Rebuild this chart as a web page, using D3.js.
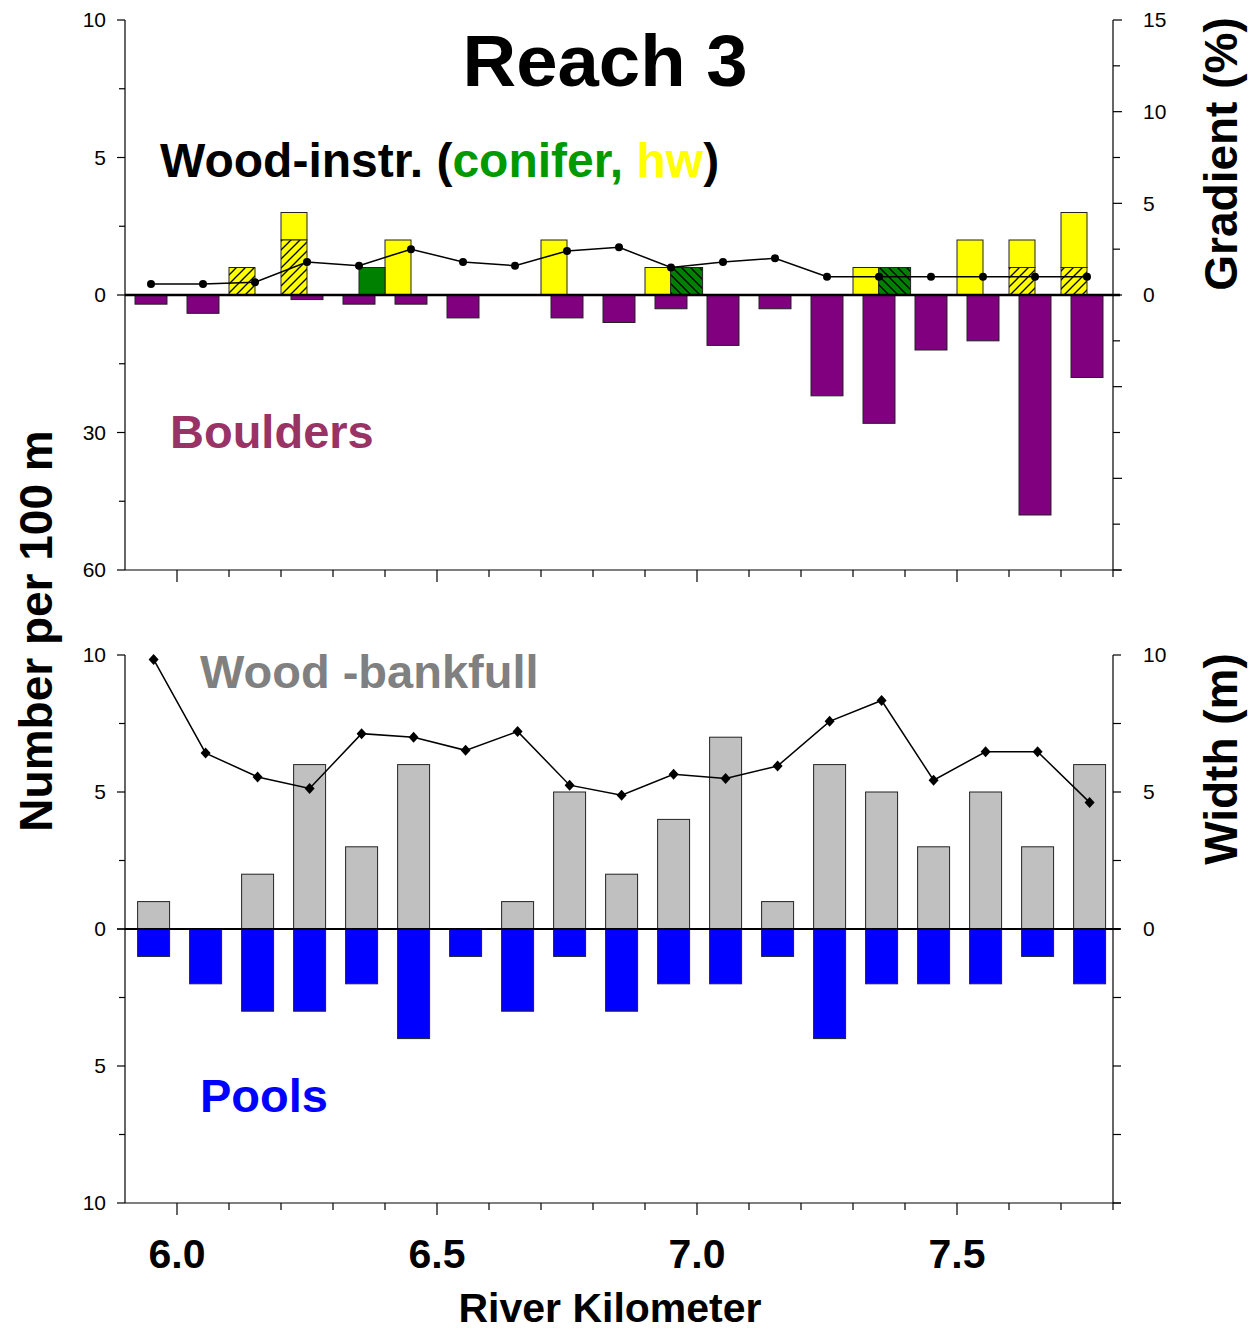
<!DOCTYPE html>
<html><head><meta charset="utf-8">
<script src="https://cdn.jsdelivr.net/npm/d3@7"></script>
<style>body{margin:0;background:#fff}svg{display:block}text{font-family:"Liberation Sans",Arial,sans-serif}</style>
</head><body>
<script>
// ---------- DATA ----------
const kmTop = [5.95,6.05,6.15,6.25,6.35,6.45,6.55,6.65,6.75,6.85,6.95,7.05,7.15,7.25,7.35,7.45,7.55,7.65,7.75];
const gradient = [0.6,0.6,0.7,1.8,1.6,2.5,1.8,1.6,2.4,2.6,1.5,1.8,2.0,1.0,1.0,1.0,1.0,1.0,1.0];
const boulders = [2,4,0,1,2,2,5,0,5,6,3,11,3,22,28,12,10,48,18];
const hwKm = [6.125,6.225,6.425,6.725,6.925,7.325,7.525,7.625,7.725];
const hwHatched = [1,2,0,0,0,0,0,1,1];
const hwTotal = [1,3,2,2,1,1,2,2,3];
const coniferKm = [6.375,6.98,7.38];
const coniferPlain = [1,0,0];
const coniferHatched = [0,1,1];
const kmBottom = [5.955,6.055,6.155,6.255,6.355,6.455,6.555,6.655,6.755,6.855,6.955,7.055,7.155,7.255,7.355,7.455,7.555,7.655,7.755];
const bankfull = [1,0,2,6,3,6,0,1,5,2,4,7,1,6,5,3,5,3,6];
const pools = [1,2,3,3,2,4,1,3,1,3,2,2,1,4,2,2,2,1,2];
const widthM = [9.84,6.42,5.55,5.13,7.13,7.0,6.52,7.21,5.25,4.88,5.65,5.49,5.95,7.58,8.34,5.43,6.47,6.47,4.62];
const xMajor = [6.0,6.5,7.0,7.5];
const xMajorLabels = ["6.0","6.5","7.0","7.5"];
const topLeftLabels = [[10,"10"],[5,"5"],[0,"0"]];
const topLeftLowLabels = [[30,"30"],[60,"60"]];
const gradLabels = [15,10,5,0];
const botLabels = [10,5,0];

// ---------- LAYOUT ----------
const W = 1253, H = 1333;
const svg = d3.select("body").append("svg").attr("width", W).attr("height", H);
const defs = svg.append("defs");
function hatch(id, fill, dir){
  const p = defs.append("pattern").attr("id", id).attr("patternUnits","userSpaceOnUse")
    .attr("width", 9).attr("height", 9);
  p.append("rect").attr("width", 9).attr("height", 9).attr("fill", fill);
  const d = dir === "/" ? "M-2,2 L2,-2 M0,9 L9,0 M7,11 L11,7" : "M-2,7 L2,11 M0,0 L9,9 M7,-2 L11,2";
  p.append("path").attr("d", d).attr("stroke", "#000").attr("stroke-width", 1.3);
}
hatch("hatchY", "#ffff00", "/");
hatch("hatchG", "#008000", "\\");

const L = 125, R = 1113;
const x = d3.scaleLinear().domain([5.9, 7.8]).range([L, R]);
const T = {top: 20, zero: 295, bottom: 570};
const B = {top: 655, zero: 929, bottom: 1203};
const yWood = d3.scaleLinear().domain([0, 10]).range([T.zero, T.top]);
const yBould = d3.scaleLinear().domain([0, 60]).range([T.zero, T.bottom]);
const yGrad = d3.scaleLinear().domain([-15, 15]).range([T.bottom, T.top]);
const yBank = d3.scaleLinear().domain([0, 10]).range([B.zero, B.top]);
const yPool = d3.scaleLinear().domain([0, 10]).range([B.zero, B.bottom]);
const yWidth = d3.scaleLinear().domain([0, 10]).range([B.zero, B.top]);

const barW = x(5.9 + 0.0615) - x(5.9);
const woodW = x(5.9 + 0.05) - x(5.9);
const edge = "#222";

// ---------- TOP PANEL ----------
const gt = svg.append("g");
gt.selectAll(".bo").data(kmTop.map((k,i)=>({k, v: boulders[i]})).filter(d=>d.v>0)).join("rect")
  .attr("x", d=>x(d.k)-barW/2).attr("y", T.zero).attr("width", barW)
  .attr("height", d=>yBould(d.v)-T.zero).attr("fill", "#800080").attr("stroke", edge).attr("stroke-width", 1);
const hwData = hwKm.map((k,i)=>({k, h: hwHatched[i], t: hwTotal[i]}));
gt.selectAll(".hwp").data(hwData.filter(d=>d.t>d.h)).join("rect")
  .attr("x", d=>x(d.k)-woodW/2).attr("y", d=>yWood(d.t)).attr("width", woodW)
  .attr("height", d=>yWood(d.h)-yWood(d.t)).attr("fill", "#ffff00").attr("stroke", edge).attr("stroke-width", 1);
gt.selectAll(".hwh").data(hwData.filter(d=>d.h>0)).join("rect")
  .attr("x", d=>x(d.k)-woodW/2).attr("y", d=>yWood(d.h)).attr("width", woodW)
  .attr("height", d=>T.zero-yWood(d.h)).attr("fill", "url(#hatchY)").attr("stroke", edge).attr("stroke-width", 1);
const coData = coniferKm.map((k,i)=>({k, p: coniferPlain[i], h: coniferHatched[i]}));
gt.selectAll(".cop").data(coData.filter(d=>d.p>0)).join("rect")
  .attr("x", d=>x(d.k)-woodW/2).attr("y", d=>yWood(d.p)).attr("width", woodW)
  .attr("height", d=>T.zero-yWood(d.p)).attr("fill", "#008000").attr("stroke", edge).attr("stroke-width", 1);
gt.selectAll(".coh").data(coData.filter(d=>d.h>0)).join("rect")
  .attr("x", d=>x(d.k)-barW/2).attr("y", d=>yWood(d.h)).attr("width", barW)
  .attr("height", d=>T.zero-yWood(d.h)).attr("fill", "url(#hatchG)").attr("stroke", edge).attr("stroke-width", 1);
gt.append("line").attr("x1", L).attr("x2", R+7).attr("y1", T.zero).attr("y2", T.zero).attr("stroke", "#000").attr("stroke-width", 2.5);
const gradPts = kmTop.map((k,i)=>[x(k), yGrad(gradient[i])]);
gt.append("path").attr("d", d3.line()(gradPts)).attr("fill", "none").attr("stroke", "#000").attr("stroke-width", 1.5);
gt.selectAll(".gd").data(gradPts).join("circle").attr("cx", d=>d[0]).attr("cy", d=>d[1]).attr("r", 4).attr("fill", "#000");

// ---------- BOTTOM PANEL ----------
const gb = svg.append("g");
gb.selectAll(".bk").data(kmBottom.map((k,i)=>({k, v: bankfull[i]})).filter(d=>d.v>0)).join("rect")
  .attr("x", d=>x(d.k)-barW/2).attr("y", d=>yBank(d.v)).attr("width", barW)
  .attr("height", d=>B.zero-yBank(d.v)).attr("fill", "#c0c0c0").attr("stroke", edge).attr("stroke-width", 1);
gb.selectAll(".pl").data(kmBottom.map((k,i)=>({k, v: pools[i]})).filter(d=>d.v>0)).join("rect")
  .attr("x", d=>x(d.k)-barW/2).attr("y", B.zero).attr("width", barW)
  .attr("height", d=>yPool(d.v)-B.zero).attr("fill", "#0000ff").attr("stroke", edge).attr("stroke-width", 1);
gb.append("line").attr("x1", L).attr("x2", R+7).attr("y1", B.zero).attr("y2", B.zero).attr("stroke", "#000").attr("stroke-width", 2);
const wPts = kmBottom.map((k,i)=>[x(k), yWidth(widthM[i])]);
gb.append("path").attr("d", d3.line()(wPts)).attr("fill", "none").attr("stroke", "#000").attr("stroke-width", 1.5);
gb.selectAll(".wd").data(wPts).join("path").attr("transform", d=>`translate(${d[0]},${d[1]})`)
  .attr("d", "M0,-5.5L5,0L0,5.5L-5,0Z").attr("fill", "#000");

// ---------- AXES ----------
const ax = svg.append("g").attr("stroke", "#000").attr("stroke-width", 1.2);
function vline(xx, y1, y2){ ax.append("line").attr("x1", xx).attr("x2", xx).attr("y1", y1).attr("y2", y2); }
function hline(y, x1, x2){ ax.append("line").attr("x1", x1).attr("x2", x2).attr("y1", y).attr("y2", y); }
vline(L, T.top, T.bottom); vline(R, T.top, T.bottom); hline(T.bottom, L, R+8);
vline(L, B.top, B.bottom); vline(R, B.top, B.bottom); hline(B.bottom, L, R+8);
[0,5,10].forEach(v=>hline(yWood(v), L-8, L));
[2.5,7.5].forEach(v=>hline(yWood(v), L-6, L));
[30,60].forEach(v=>hline(yBould(v), L-8, L));
[15,45].forEach(v=>hline(yBould(v), L-6, L));
d3.range(-15, 15.01, 2.5).forEach(v=>hline(yGrad(v), R, R + (v % 5 === 0 ? 9 : 7)));
[0,5,10].forEach(v=>{ hline(yBank(v), L-8, L); hline(yPool(v), L-8, L); });
[2.5,7.5].forEach(v=>{ hline(yBank(v), L-6, L); hline(yPool(v), L-6, L); });
d3.range(0, 10.01, 2.5).forEach(v=>{ hline(yWidth(v), R, R+8); hline(yPool(v), R, R+8); });
d3.range(6.0, 7.85, 0.1).forEach(v=>{
  const major = xMajor.some(m=>Math.abs(m-v)<1e-6);
  vline(x(v), T.bottom, T.bottom + (major ? 12 : 7));
  vline(x(v), B.bottom, B.bottom + (major ? 12 : 7));
});

const tl = svg.append("g").attr("font-size", 21).attr("fill", "#000");
topLeftLabels.forEach(([v,s])=>tl.append("text").attr("x", L-19).attr("y", yWood(v)).attr("dy", "0.35em").attr("text-anchor","end").text(s));
topLeftLowLabels.forEach(([v,s])=>tl.append("text").attr("x", L-19).attr("y", yBould(v)).attr("dy", "0.35em").attr("text-anchor","end").text(s));
gradLabels.forEach(v=>tl.append("text").attr("x", R+30).attr("y", yGrad(v)).attr("dy", "0.35em").text(v));
botLabels.forEach(v=>tl.append("text").attr("x", L-19).attr("y", yBank(v)).attr("dy", "0.35em").attr("text-anchor","end").text(v));
[5,10].forEach(v=>tl.append("text").attr("x", L-19).attr("y", yPool(v)).attr("dy", "0.35em").attr("text-anchor","end").text(v));
botLabels.forEach(v=>tl.append("text").attr("x", R+30).attr("y", yWidth(v)).attr("dy", "0.35em").text(v));
xMajor.forEach((v,i)=>svg.append("text").attr("x", x(v)).attr("y", 1268).attr("text-anchor","middle")
  .attr("font-size", 41).attr("font-weight","bold").text(xMajorLabels[i]));

// ---------- TITLES / LABELS ----------
svg.append("text").attr("x", 605).attr("y", 86).attr("text-anchor","middle")
  .attr("font-family", "'Comic Sans MS','DejaVu Sans',sans-serif").attr("font-size", 72).attr("font-weight","bold")
  .attr("textLength", 285).attr("lengthAdjust","spacingAndGlyphs").text("Reach 3");
const wi = svg.append("text").attr("x", 160).attr("y", 177).attr("font-size", 48).attr("font-weight","bold");
wi.append("tspan").attr("fill","#000").text("Wood-instr. (");
wi.append("tspan").attr("fill","#009900").text("conifer, ");
wi.append("tspan").attr("fill","#ffff00").text("hw");
wi.append("tspan").attr("fill","#000").text(")");
svg.append("text").attr("x", 170).attr("y", 448).attr("font-size", 47).attr("font-weight","bold").attr("fill","#993366").text("Boulders");
svg.append("text").attr("x", 200).attr("y", 688).attr("font-size", 47).attr("font-weight","bold").attr("fill","#808080").text("Wood -bankfull");
svg.append("text").attr("x", 200).attr("y", 1112).attr("font-size", 47).attr("font-weight","bold").attr("fill","#0000ff").text("Pools");
svg.append("text").attr("x", 610).attr("y", 1322).attr("text-anchor","middle").attr("font-size", 41).attr("font-weight","bold").text("River Kilometer");
svg.append("text").attr("transform","translate(52,631) rotate(-90)").attr("text-anchor","middle").attr("font-size", 46).attr("font-weight","bold").text("Number per 100 m");
svg.append("text").attr("transform","translate(1237,154) rotate(-90)").attr("text-anchor","middle").attr("font-size", 46).attr("font-weight","bold").text("Gradient (%)");
svg.append("text").attr("transform","translate(1237,759) rotate(-90)").attr("text-anchor","middle").attr("font-size", 46).attr("font-weight","bold").text("Width (m)");
</script>
</body></html>
